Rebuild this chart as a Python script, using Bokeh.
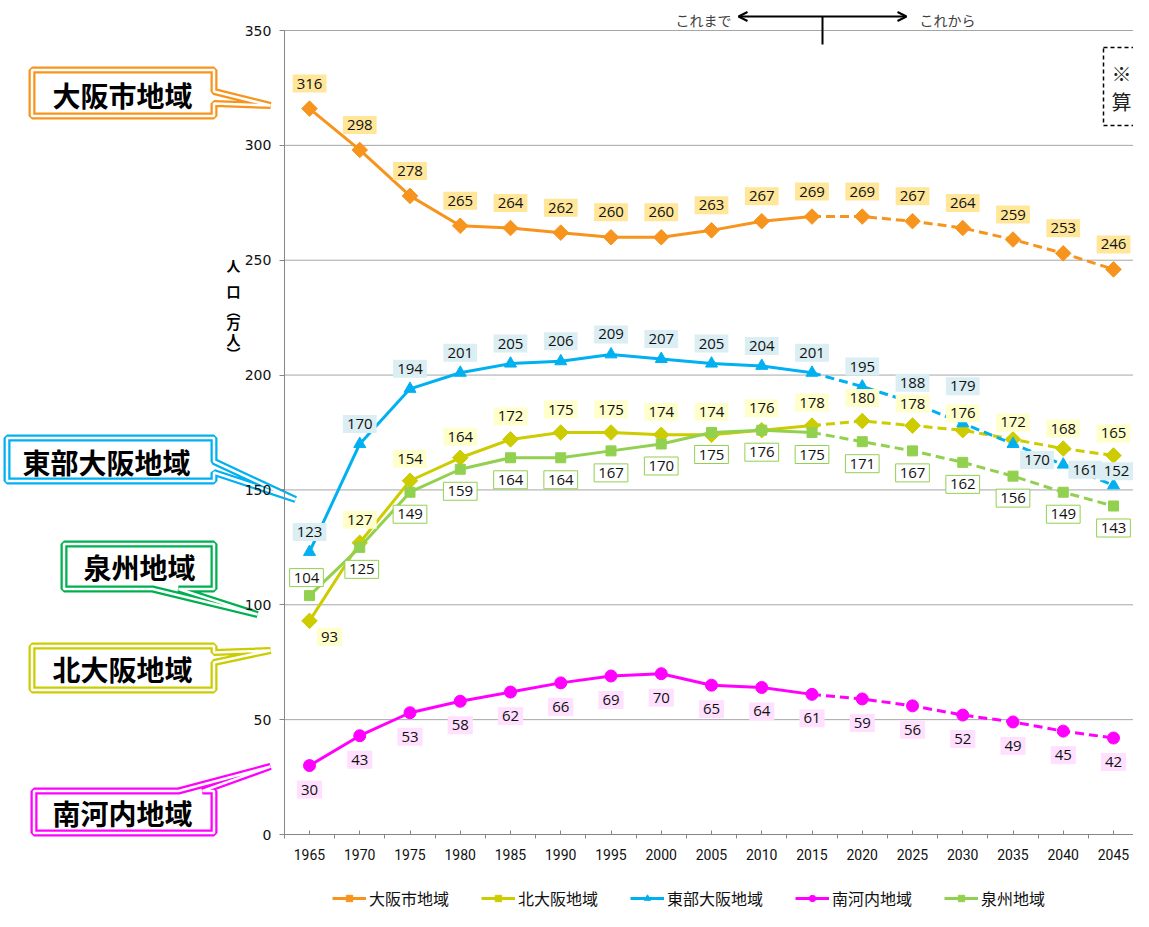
import numpy as np
from bokeh.plotting import figure
from bokeh.models import Range1d, FixedTicker, Legend, LegendItem, Arrow, OpenHead
from bokeh.core.properties import value
from bokeh.embed import file_html
from bokeh.resources import INLINE

# ---------------- data ----------------
years = ["1965", "1970", "1975", "1980", "1985", "1990", "1995", "2000", "2005",
         "2010", "2015", "2020", "2025", "2030", "2035", "2040", "2045"]
osaka  = [316, 298, 278, 265, 264, 262, 260, 260, 263, 267, 269, 269, 267, 264, 259, 253, 246]
kita   = [93, 127, 154, 164, 172, 175, 175, 174, 174, 176, 178, 180, 178, 176, 172, 168, 165]
toubu  = [123, 170, 194, 201, 205, 206, 209, 207, 205, 204, 201, 195, 188, 179, 170, 161, 152]
minami = [30, 43, 53, 58, 62, 66, 69, 70, 65, 64, 61, 59, 56, 52, 49, 45, 42]
senshu = [104, 125, 149, 159, 164, 164, 167, 170, 175, 176, 175, 171, 167, 162, 156, 149, 143]
y_ticks = [0, 50, 100, 150, 200, 250, 300, 350]
names = ["大阪市地域", "北大阪地域", "東部大阪地域", "南河内地域", "泉州地域"]
LAST_ACTUAL = 10  # index of 2015

# ---------------- label offsets (pixels, styling only) ----------------
osaka_off = ([0] * 17, [-25] * 17)
kita_off = ([20] + [0] * 16,
            [16, -23, -22, -21, -23, -23, -23, -23, -23, -22, -23, -23, -22, -17, -17, -20, -22])
toubu_off = ([0] * 14 + [24, 22, 3], [-20] * 13 + [-37, 16, 5, -14])
minami_off = ([0] * 17, [24] * 17)
senshu_off = ([-3, 2] + [0] * 15, [-18] + [22] * 16)

# ---------------- geometry helpers (screen px -> data) ----------------
W, H = 1133, 911
PX0, PXS = 309.0, 50.25
PY0, PYS = 834.0, 804.0 / 350.0
def dx(X): return (X - PX0) / PXS
def dy(Y): return (PY0 - Y) / PYS

p = figure(width=W, height=H, x_range=Range1d(dx(0), dx(W)),
           y_range=Range1d(dy(H), dy(0)), output_backend="svg",
           toolbar_location=None, title=None, min_border=0,
           outline_line_color=None, background_fill_color="white",
           border_fill_color="white")
p.xgrid.visible = False
p.ygrid.visible = False

idx = list(range(len(years)))
AX = "#868686"

xa = p.xaxis[0]
xa.fixed_location = 0
xa.bounds = (-0.5, len(years) - 0.5)
xa.ticker = FixedTicker(ticks=idx, minor_ticks=[i - 0.5 for i in range(len(years) + 1)])
xa.major_label_overrides = {i: y for i, y in enumerate(years)}
xa.major_tick_in = 4
xa.major_tick_out = 0
xa.minor_tick_in = 0
xa.minor_tick_out = 4
xa.axis_line_color = AX
xa.major_tick_line_color = AX
xa.minor_tick_line_color = AX
xa.major_label_standoff = 10
xa.major_label_text_font = "Roboto"
xa.major_label_text_font_size = "14px"
xa.major_label_text_color = "#111111"

ya = p.yaxis[0]
ya.fixed_location = -0.5
ya.bounds = (0, 350)
ya.ticker = FixedTicker(ticks=y_ticks)
ya.major_tick_in = 0
ya.major_tick_out = 5
ya.minor_tick_line_color = None
ya.axis_line_color = AX
ya.major_tick_line_color = AX
ya.major_label_standoff = 8
ya.major_label_text_font = "DejaVu Sans"
ya.major_label_text_font_size = "14px"
ya.major_label_text_color = "#111111"

# gridlines only over the plot area
p.segment(x0=-0.5, x1=len(years) - 0.5, y0=y_ticks[1:], y1=y_ticks[1:],
          line_color="#A6A6A6", line_width=1)

# ---------------- callouts ----------------
def callout(outer, wedge, tip, color, text, tc):
    l, t, r, b = outer
    l += 3.5; t += 3.5; r -= 3.5; b -= 3.5
    pts = [(l, t)]
    side, a1, a2 = wedge
    if side == "top":
        pts += [(a1, t), tip, (a2, t)]
    pts += [(r, t)]
    if side == "right":
        pts += [(r, a1), tip, (r, a2)]
    pts += [(r, b)]
    if side == "bottom":
        pts += [(a2, b), tip, (a1, b)]
    pts += [(l, b)]
    xs = [dx(q[0]) for q in pts]
    ys = [dy(q[1]) for q in pts]
    p.patch(xs, ys, fill_color="white", line_color=color, line_width=7, line_join="bevel")
    p.patch(xs, ys, fill_color=None, line_color="white", line_width=2.5, line_join="bevel")
    p.text(x=[dx(tc[0])], y=[dy(tc[1])], text=[text], text_font=value("Noto Sans CJK JP"),
           text_font_style="bold", text_font_size="28px", text_align="center",
           text_baseline="middle", text_color="black")

ORANGE, OLIVE, BLUE, MAGENTA, GREEN = "#F7941D", "#CCCC00", "#00B0F0", "#FF00FF", "#92D050"

callout((28, 66, 217, 119), ("right", 91, 103), (270, 105), ORANGE, names[0], (122, 94))
callout((3, 434, 217, 484), ("right", 461, 472), (295, 499), BLUE, names[2], (106, 461))
callout((60, 540, 217, 592), ("bottom", 152, 178), (257, 614), "#00B050", names[4], (139, 566))
callout((28, 642, 217, 693), ("right", 652, 662), (270, 650), OLIVE, names[1], (122, 668))
callout((30, 787, 217, 836), ("top", 178, 202), (270, 766), MAGENTA, names[3], (122, 812))

# ---------------- series ----------------
series = [
    (names[0], osaka, ORANGE, dict(marker="square", angle=np.pi / 4, size=11), "#FFE699", None, osaka_off),
    (names[1], kita, OLIVE, dict(marker="square", angle=np.pi / 4, size=11), "#FFFFCC", None, kita_off),
    (names[2], toubu, BLUE, dict(marker="triangle", size=12), "#DAEEF3", None, toubu_off),
    (names[3], minami, MAGENTA, dict(marker="circle", size=12), "#FFE0FF", None, minami_off),
    (names[4], senshu, GREEN, dict(marker="square", size=10), "white", GREEN, senshu_off),
]

legend_items = []
for name, vals, col, mk, bg, bd, off in series:
    solid = p.line(idx[:LAST_ACTUAL + 1], vals[:LAST_ACTUAL + 1], line_color=col, line_width=3)
    p.line(idx[LAST_ACTUAL:], vals[LAST_ACTUAL:], line_color=col, line_width=3, line_dash="9 5")
    sc = p.scatter(idx, vals, fill_color=col, line_color=col, **mk)
    legend_items.append(LegendItem(label=name, renderers=[solid, sc]))

for name, vals, col, mk, bg, bd, off in series:
    p.text(x=idx, y=vals, text=[str(v) for v in vals], x_offset=off[0], y_offset=off[1],
           text_font=value("Open Sans"), text_font_size="15px", text_color="#111111",
           text_align="center", text_baseline="middle",
           background_fill_color=bg, border_line_color=bd, border_line_width=1,
           padding=dict(left=4, right=4, top=4, bottom=4))

# ---------------- y-axis title (vertical) ----------------
yt_chars = ["人", "口", "︵", "万", "人", "︶"]
yt_pos = [264, 290, 309, 322, 338, 352]
p.text(x=[dx(233)] * len(yt_chars), y=[dy(v) for v in yt_pos], text=yt_chars,
       text_font=value("Noto Sans CJK JP"), text_font_style="bold", text_font_size="14px",
       text_align="center", text_baseline="middle", text_color="black")

# ---------------- top annotation ----------------
p.add_layout(Arrow(start=OpenHead(size=9, line_width=2, line_color="black"),
                   end=OpenHead(size=9, line_width=2, line_color="black"),
                   x_start=dx(738), y_start=dy(16), x_end=dx(906), y_end=dy(16),
                   line_width=2, line_color="black"))
p.segment(x0=dx(822), y0=dy(16), x1=dx(822), y1=dy(44), line_color="black", line_width=2)
p.text(x=[dx(731)], y=[dy(19)], text=["これまで"], text_font=value("Noto Sans CJK JP"),
       text_font_size="14px", text_align="right", text_baseline="middle", text_color="#404040")
p.text(x=[dx(919)], y=[dy(19)], text=["これから"], text_font=value("Noto Sans CJK JP"),
       text_font_size="14px", text_align="left", text_baseline="middle", text_color="#404040")

# dashed note box at top right (clipped by the page edge)
p.quad(left=dx(1103), right=dx(1220), top=dy(47), bottom=dy(125), fill_color=None,
       line_color="black", line_dash="4 3", line_width=1.5)
p.text(x=[dx(1111), dx(1111)], y=[dy(73), dy(101)], text=["※", "算"],
       text_font=value("Noto Sans CJK JP"), text_font_size="20px", text_align="left",
       text_baseline="middle", text_color="#222222")

# ---------------- legend ----------------
legend = Legend(items=legend_items, orientation="horizontal", location=(332, 1),
                padding=0, margin=0, spacing=32, glyph_width=34, glyph_height=16,
                label_standoff=3, label_height=16, label_text_font="Noto Sans CJK JP",
                label_text_font_size="16px", label_text_color="#111111",
                background_fill_alpha=0, border_line_color=None)
p.add_layout(legend, "center")

open("out.html", "w").write(file_html(p, INLINE))
